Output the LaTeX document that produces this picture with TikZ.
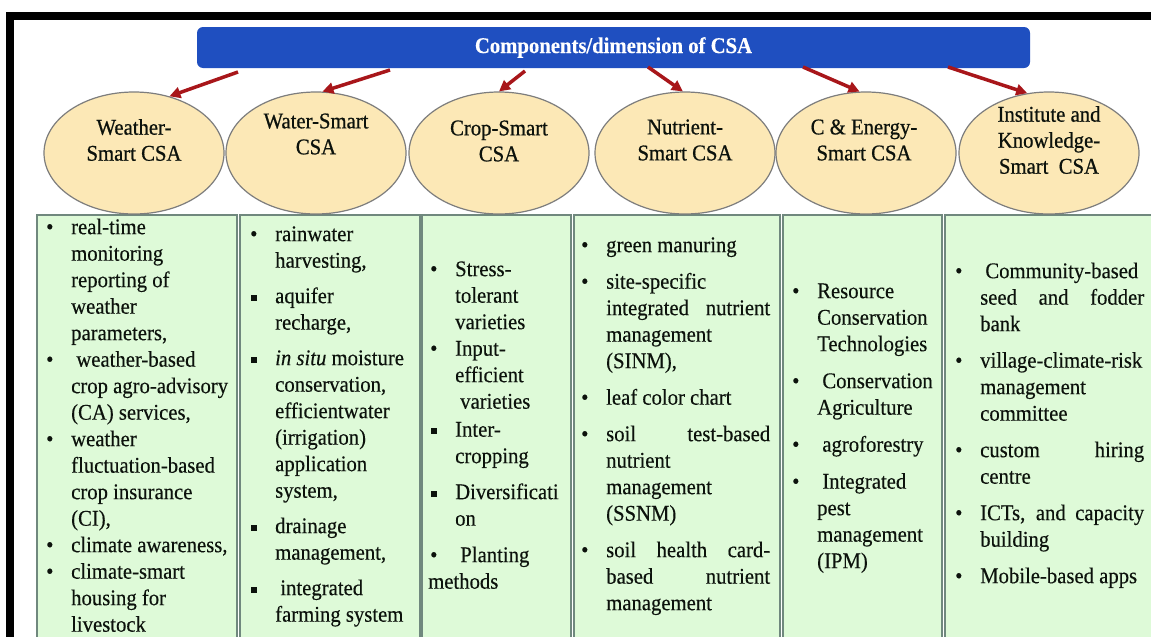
\documentclass[tikz,border=0pt]{standalone}
\usepackage{fontspec}
\setmainfont{Liberation Serif}[FakeStretch=0.92,FakeBold=0.3]
\newfontfamily\ellfont{Liberation Serif}[FakeStretch=0.92,FakeBold=0.7]
\usetikzlibrary{arrows.meta,shapes.geometric}
\definecolor{barblue}{RGB}{31,79,192}
\definecolor{arrred}{RGB}{168,22,26}
\definecolor{ellfill}{RGB}{252,232,182}
\definecolor{elldraw}{RGB}{125,125,125}
\definecolor{boxfill}{RGB}{222,250,216}
\definecolor{boxdraw}{RGB}{112,136,126}
\definecolor{txtcol}{RGB}{12,18,12}
\hyphenpenalty=10000 \exhyphenpenalty=10000 \tolerance=10000
\newcommand\fst{\rule{0pt}{18pt}}
\newcommand\rb{\leavevmode\llap{\makebox[25pt][l]{\textbullet}}}
\newcommand\sqb{\leavevmode\llap{\makebox[25pt][l]{\hspace{1pt}\rule[2.3pt]{6pt}{6pt}}}}
\newcommand\igap[1]{\par\vspace{#1pt}}
\tikzset{
  titlebar/.style={rectangle, rounded corners=6pt, fill=barblue, minimum width=833pt, minimum height=41pt, inner sep=0pt, text=white, font=\fontsize{22.5}{26}\selectfont\bfseries},
  ell/.style={ellipse, draw=elldraw, line width=1.2pt, fill=ellfill, minimum width=180pt, minimum height=122pt, inner sep=0pt},
  elltext/.style={align=center, inner sep=0pt, font=\ellfont\fontsize{22.5}{26}\selectfont, text=txtcol},
  col/.style={anchor=north west, inner sep=0pt, align=justify, font=\fontsize{22.5}{26.5}\selectfont, text=txtcol},
  arr/.style={draw=arrred, line width=3.5pt, -{Triangle[length=11pt,width=11pt]}},
  colbox/.style={draw=boxdraw, line width=1.1pt, fill=boxfill},
}
\begin{document}
\begin{tikzpicture}[x=1pt,y=-1pt]
\useasboundingbox (0,0) rectangle (1151,637);
\fill[white] (0,0) rectangle (1151,637);
\clip (0,0) rectangle (1151,637);
% black frame
\fill[black] (6,12) rectangle (1151,20);
\fill[black] (6,12) rectangle (14,637);
% column boxes
\path[colbox] (37,215) rectangle (237,650);
\path[colbox] (240,215) rectangle (420,650);
\path[colbox] (422,215) rectangle (571,650);
\path[colbox] (574,215) rectangle (780,650);
\path[colbox] (783,215) rectangle (942,650);
\path[colbox] (945,215) rectangle (1170,650);
% title bar
\node[titlebar] (bar) at (613.5,47.5) {Components/dimension of CSA};
% ellipses
\node[ell] (e1) at (134,153) {};
\node[ell] (e2) at (316,153) {};
\node[ell] (e3) at (499,153) {};
\node[ell] (e4) at (685,153) {};
\node[ell] (e5) at (866,153) {};
\node[ell] (e6) at (1049,153) {};
\node[elltext] (t1) at (134,140) {Weather-\\Smart CSA};
\node[elltext] (t2) at (316,134) {Water-Smart\\CSA};
\node[elltext] (t3) at (499,141) {Crop-Smart\\CSA};
\node[elltext] (t4) at (685,140) {Nutrient-\\Smart CSA};
\node[elltext] (t5) at (864,140) {C \& Energy-\\Smart CSA};
\node[elltext] (t6) at (1049,140) {Institute and\\Knowledge-\\Smart\ \ CSA};
% arrows
\coordinate (s1) at (238,72);
\coordinate (s2) at (390,70);
\coordinate (s3) at (525,71);
\coordinate (s4) at (648,67);
\coordinate (s5) at (803,67);
\coordinate (s6) at (948,67);
\draw[arr] (s1) -- (e1.58);
\draw[arr] (s2) -- (e2.84);
\draw[arr] (s3) -- (e3.90);
\draw[arr] (s4) -- (e4.92);
\draw[arr] (s5) -- (e5.96);
\draw[arr] (s6) -- (e6.110);
% column texts
\node[col, text width=166pt] (c1) at (71,216) {\rb\fst real-time\\ monitoring\\ reporting of\\ weather\\ parameters,\par
\rb\ weather-based\\ crop agro-advisory\\ (CA) services,\par
\rb weather\\ fluctuation-based\\ crop insurance\\ (CI),\par
\rb climate awareness,\par
\rb climate-smart\\ housing for\\ livestock};
\node[col, text width=145pt] (c2) at (275,223) {\rb\fst rainwater\\ harvesting,\igap{9}
\sqb aquifer\\ recharge,\igap{9}
\sqb \textit{in situ} moisture\\ conservation,\\ efficientwater\\ (irrigation)\\ application\\ system,\igap{9}
\sqb drainage\\ management,\igap{9}
\sqb\ integrated\\ farming system};
\node[col, text width=116pt] (c3) at (455,258) {\rb\fst Stress-\\ tolerant\\ varieties\par
\rb Input-\\ efficient\\ \hspace*{5pt}varieties\igap{1.5}
\sqb Inter-\\ cropping\igap{9.5}
\sqb Diversificati\\ on\igap{10}
\rb\ Planting\\ \hspace*{-27pt}methods};
\node[col, text width=164pt] (c4) at (606,234) {\rb\fst green manuring\igap{10}
\rb site-specific\\ integrated nutrient\linebreak management\\ (SINM),\igap{10}
\rb leaf color chart\igap{10}
\rb soil test-based\linebreak nutrient\\ management\\ (SSNM)\igap{10}
\rb soil health card-\linebreak based nutrient\linebreak management};
\node[col, text width=123pt] (c5) at (817,280) {\rb\fst Resource\\ Conservation\\ Technologies\igap{10.5}
\rb\ Conservation\\ Agriculture\igap{10.5}
\rb\ agroforestry\igap{10.5}
\rb\ Integrated\\ pest\\ management\\ (IPM)};
\node[col, text width=164pt] (c6) at (980,260) {\rb\fst\ Community-based\\ seed and fodder\linebreak bank\igap{10}
\rb village-climate-risk\\ management\\ committee\igap{10}
\rb custom hiring\linebreak centre\igap{10}
\rb ICTs, and capacity\linebreak building\igap{10}
\rb Mobile-based apps};
\end{tikzpicture}
\end{document}
